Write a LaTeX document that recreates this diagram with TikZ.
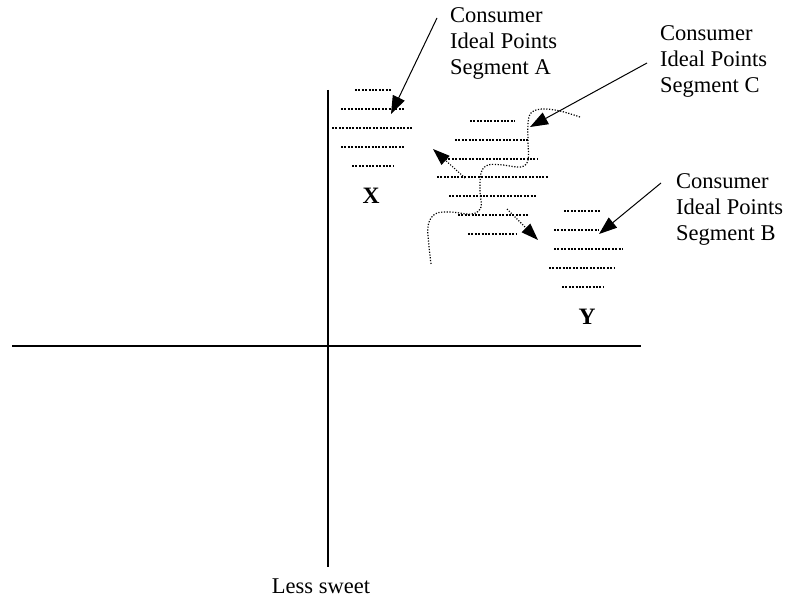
\documentclass[tikz,border=0pt]{standalone}
\usepackage{fontspec}
\setmainfont{Liberation Serif}
\usetikzlibrary{arrows.meta}
\begin{document}
\begin{tikzpicture}[x=1pt,y=-1pt,
  lbl/.style={anchor=base west,inner sep=0pt,align=left,font=\fontsize{22.5}{26}\selectfont},
  letter/.style={anchor=base,inner sep=0pt,font=\fontsize{23.5}{26}\selectfont\bfseries},
  axis/.style={line width=1.1pt},
  pointer/.style={line width=1pt,-{Triangle[length=18pt,width=13pt]}},
  dpointer/.style={line width=1.1pt,dash pattern=on 1.1pt off 1.6pt,-{Triangle[length=17pt,width=12pt]}},
  dotrow/.style={line width=2.1pt,dash pattern=on 2pt off 1.4pt},
  wiggle/.style={line width=1.2pt,dash pattern=on 1.2pt off 1.6pt}]
\useasboundingbox (0,0) rectangle (786,599);
% axes
\coordinate (hL) at (12,346);
\coordinate (hR) at (641,346);
\coordinate (vT) at (328,90);
\coordinate (vB) at (328,567);
\draw[axis] (hL) -- (hR);
\draw[axis] (vT) -- (vB);
\node[anchor=base,inner sep=0pt,font=\fontsize{22.5}{26}\selectfont] (less) at (321,593) {Less sweet};
% labels (base = baseline of last line)
\node[lbl] (segA) at (450,75) {Consumer\\Ideal Points\\Segment A};
\node[lbl] (segC) at (660,93) {Consumer\\Ideal Points\\Segment C};
\node[lbl] (segB) at (676,240) {Consumer\\Ideal Points\\Segment B};
\node[letter] (X) at (371,203) {X};
\node[letter] (Y) at (587,324) {Y};
% dot rows segment A
\draw[dotrow] (355,90) -- (392,90);
\draw[dotrow] (341,109) -- (405,109);
\draw[dotrow] (332,128) -- (413,128);
\draw[dotrow] (341,147) -- (405,147);
\draw[dotrow] (352,166) -- (393,166);
% dot rows segment C
\draw[dotrow] (470,121) -- (515,121);
\draw[dotrow] (455,140) -- (528,140);
\draw[dotrow] (445,159) -- (537,159);
\draw[dotrow] (437,177) -- (548,177);
\draw[dotrow] (449,196) -- (536,196);
\draw[dotrow] (458,215) -- (528,215);
\draw[dotrow] (468,234) -- (517,234);
% dot rows segment B
\draw[dotrow] (564,211) -- (601,211);
\draw[dotrow] (554,230) -- (599,230);
\draw[dotrow] (554,249) -- (623,249);
\draw[dotrow] (549,268) -- (615,268);
\draw[dotrow] (562,287) -- (603,287);
% arrows from labels
\coordinate (aS) at (437,18);
\coordinate (aT) at (391,114);
\coordinate (cS) at (647,63);
\coordinate (cT) at (530,127);
\coordinate (bS) at (661,183);
\coordinate (bT) at (599,234);
\draw[pointer] (aS) -- (aT);
\draw[pointer] (cS) -- (cT);
\draw[pointer] (bS) -- (bT);
% dotted arrows
\coordinate (d1S) at (465,178);
\coordinate (d1T) at (433,149);
\coordinate (d2S) at (507,209);
\coordinate (d2T) at (538,240);
\draw[dpointer] (d1S) -- (d1T);
\draw[dpointer] (d2S) -- (d2T);
% wiggly dotted curve
\draw[wiggle] plot[smooth,tension=0.6] coordinates {(580,117) (560,111) (542,109) (531,113) (528,124) (528,142) (528,160) (521,167) (503,165) (488,165) (481,173) (480,192) (481,207) (472,214) (450,212) (435,214) (428,226) (429,246) (431,264)};
\end{tikzpicture}
\end{document}
